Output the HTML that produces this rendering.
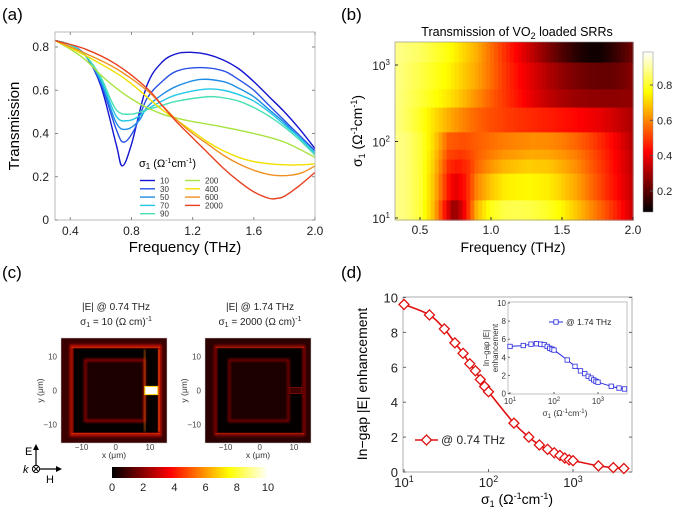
<!DOCTYPE html>
<html><head><meta charset="utf-8">
<style>
html,body{margin:0;padding:0;background:#fff;}
svg{display:block;font-family:"Liberation Sans",Arial,sans-serif;}
</style></head>
<body>
<svg id="fig" width="675" height="511" viewBox="0 0 675 511" xmlns="http://www.w3.org/2000/svg">
<defs>
<linearGradient id="hotH" x1="0" y1="0" x2="1" y2="0">
<stop offset="0" stop-color="#000"/><stop offset="0.375" stop-color="#f00"/><stop offset="0.75" stop-color="#ff0"/><stop offset="1" stop-color="#fff"/>
</linearGradient>
<linearGradient id="hotV" x1="0" y1="1" x2="0" y2="0">
<stop offset="0" stop-color="#000"/><stop offset="0.375" stop-color="#f00"/><stop offset="0.75" stop-color="#ff0"/><stop offset="1" stop-color="#fff"/>
</linearGradient>
<filter id="glow" x="-20%" y="-20%" width="140%" height="140%"><feGaussianBlur stdDeviation="1.2"/></filter>
</defs>
<g id="pa"></g>
<g id="pb"></g>
<g id="pc"></g>
<g id="pd"></g>
</svg>
<script>
// ---------- Panel (a) data ----------
const sigmaLabels = ["10","30","50","70","90","200","400","600","2000"];
const sigmaValues = [10,30,50,70,90,200,400,600,2000];
const curveColors = ["#1414d0","#2850e6","#1e8ce6","#22c8e6","#48e0b4","#a8e440","#f0e000","#f09020","#e84020"];
const freq10 = [0.3,0.4,0.5,0.6,0.7,0.74,0.8,0.9,1.0,1.1,1.2,1.3,1.4,1.5,1.6,1.7,1.8,1.9,2.0];
const trans10 = [0.83,0.81,0.76,0.62,0.35,0.25,0.35,0.62,0.73,0.77,0.775,0.765,0.74,0.70,0.64,0.57,0.50,0.42,0.33];
const freq30 = [0.3,0.4,0.5,0.6,0.7,0.75,0.82,0.9,1.0,1.1,1.25,1.4,1.5,1.6,1.7,1.8,1.9,2.0];
const trans30 = [0.83,0.81,0.76,0.63,0.42,0.36,0.42,0.56,0.64,0.69,0.705,0.69,0.65,0.60,0.53,0.46,0.39,0.32];
const freq50 = [0.3,0.4,0.5,0.6,0.7,0.77,0.85,0.9,1.0,1.1,1.25,1.4,1.5,1.6,1.7,1.8,1.9,2.0];
const trans50 = [0.83,0.81,0.76,0.64,0.45,0.42,0.46,0.52,0.58,0.62,0.65,0.64,0.61,0.57,0.51,0.45,0.38,0.31];
const freq70 = [0.3,0.4,0.5,0.6,0.7,0.78,0.85,0.9,1.0,1.1,1.28,1.4,1.5,1.6,1.7,1.8,1.9,2.0];
const trans70 = [0.83,0.81,0.76,0.65,0.48,0.46,0.48,0.51,0.55,0.58,0.605,0.60,0.58,0.55,0.50,0.44,0.38,0.31];
const freq90 = [0.3,0.4,0.5,0.6,0.7,0.8,0.9,1.0,1.1,1.3,1.4,1.5,1.6,1.7,1.8,1.9,2.0];
const trans90 = [0.83,0.81,0.76,0.66,0.51,0.49,0.51,0.53,0.55,0.57,0.565,0.55,0.52,0.48,0.43,0.37,0.30];
const freq200 = [0.3,0.4,0.5,0.6,0.7,0.8,0.9,1.0,1.1,1.2,1.4,1.6,1.8,2.0];
const trans200 = [0.83,0.79,0.74,0.67,0.61,0.56,0.52,0.49,0.47,0.455,0.43,0.40,0.36,0.29];
const freq400 = [0.3,0.5,0.7,0.8,0.9,1.0,1.1,1.2,1.3,1.4,1.5,1.6,1.7,1.8,1.9,2.0];
const trans400 = [0.83,0.76,0.68,0.63,0.57,0.51,0.46,0.41,0.36,0.32,0.29,0.27,0.26,0.255,0.255,0.26];
const freq600 = [0.3,0.5,0.7,0.9,1.0,1.1,1.2,1.3,1.4,1.5,1.6,1.7,1.77,1.85,1.92,2.0];
const trans600 = [0.83,0.77,0.70,0.60,0.53,0.46,0.40,0.35,0.30,0.26,0.23,0.21,0.205,0.208,0.22,0.25];
const freq2000 = [0.3,0.5,0.7,0.9,1.0,1.1,1.2,1.3,1.4,1.5,1.6,1.7,1.75,1.8,1.9,2.0];
const trans2000 = [0.83,0.79,0.72,0.61,0.53,0.45,0.38,0.31,0.24,0.18,0.13,0.10,0.10,0.11,0.16,0.22];
const curveFreqs = [freq10,freq30,freq50,freq70,freq90,freq200,freq400,freq600,freq2000];
const curveTrans = [trans10,trans30,trans50,trans70,trans90,trans200,trans400,trans600,trans2000];
const aXTicks = [0.4,0.8,1.2,1.6,2.0];
const aYTicks = [0,0.2,0.4,0.6,0.8];

// ---------- Panel (b) data ----------
const bXTicks = [0.5,1.0,1.5,2.0];
const bYTickExp = [1,2,3];
const bCbarTicks = [0.2,0.4,0.6,0.8];

// ---------- Panel (d) data ----------
const dSigma = [10,20,30,40,50,60,70,80,90,100,200,300,400,500,600,700,800,900,1000,2000,3000,4000];
const dEnh074 = [9.6,9.0,8.2,7.4,6.8,6.2,5.8,5.3,4.9,4.6,2.8,2.0,1.55,1.3,1.1,0.95,0.8,0.7,0.65,0.35,0.25,0.2];
const dEnh174 = [5.2,5.3,5.45,5.5,5.45,5.4,5.2,5.0,4.9,4.8,3.7,3.0,2.5,2.2,1.9,1.7,1.5,1.35,1.25,0.8,0.6,0.5];
const dYTicks = [0,2,4,6,8,10];
const dXTickExp = [1,2,3];
const cCbarTicks = [0,2,4,6,8,10];

const NS="http://www.w3.org/2000/svg";
function mk(parent,tag,attrs,text){const e=document.createElementNS(NS,tag);for(const k in attrs)e.setAttribute(k,attrs[k]);if(text!==undefined)e.textContent=text;parent.appendChild(e);return e;}
function smoothPath(pts){let d="M"+pts[0][0].toFixed(2)+","+pts[0][1].toFixed(2);
 for(let i=0;i<pts.length-1;i++){const p0=pts[Math.max(0,i-1)],p1=pts[i],p2=pts[i+1],p3=pts[Math.min(pts.length-1,i+2)];
  const c1=[p1[0]+(p2[0]-p0[0])/6,p1[1]+(p2[1]-p0[1])/6],c2=[p2[0]-(p3[0]-p1[0])/6,p2[1]-(p3[1]-p1[1])/6];
  d+=" C"+c1[0].toFixed(2)+","+c1[1].toFixed(2)+" "+c2[0].toFixed(2)+","+c2[1].toFixed(2)+" "+p2[0].toFixed(2)+","+p2[1].toFixed(2);}
 return d;}
function interp(xs,ys,x){if(x<=xs[0])return ys[0];for(let i=0;i<xs.length-1;i++){if(x<=xs[i+1]){const t=(x-xs[i])/(xs[i+1]-xs[i]);return ys[i]+t*(ys[i+1]-ys[i]);}}return ys[ys.length-1];}
function hot(t){t=Math.max(0,Math.min(1,t));let r,g,b;
 if(t<0.375){r=t/0.375;g=0;b=0;}else if(t<0.75){r=1;g=(t-0.375)/0.375;b=0;}else{r=1;g=1;b=(t-0.75)/0.25;}
 return "rgb("+Math.round(r*255)+","+Math.round(g*255)+","+Math.round(b*255)+")";}

// ================= Panel (a) =================
(function(){
const g=document.getElementById('pa');
const X0=55,X1=315,Y0=32,Y1=220;
const ax=f=>X0+(f-0.3)/(2.0-0.3)*(X1-X0);
const ay=v=>220-v*216.25;
let t=mk(g,'text',{x:2,y:20,'font-size':17});t.textContent="(a)";

const plot=mk(g,'g',{});

for(let i=0;i<curveFreqs.length;i++){
 const pts=curveFreqs[i].map((f,j)=>[ax(f),ay(curveTrans[i][j])]);
 const p=mk(plot,'path',{d:smoothPath(pts),fill:'none',stroke:curveColors[i],'stroke-width':1.4});
 
}
const frame=mk(g,'rect',{x:X0,y:Y0,width:X1-X0,height:Y1-Y0,fill:'none',stroke:'#aaa','stroke-width':0.8});

aXTicks.forEach(v=>{const x=ax(v);mk(g,'line',{x1:x,x2:x,y1:Y1,y2:Y1-3,stroke:'#888'});mk(g,'line',{x1:x,x2:x,y1:Y0,y2:Y0+3,stroke:'#888'});
 const tt=mk(g,'text',{x:x,y:Y1+15,'font-size':12,'text-anchor':'middle',fill:'#222'},v.toFixed(1));
 });
aYTicks.forEach(v=>{const y=ay(v);mk(g,'line',{x1:X0,x2:X0+3,y1:y,y2:y,stroke:'#888'});mk(g,'line',{x1:X1,x2:X1-3,y1:y,y2:y,stroke:'#888'});
 const tt=mk(g,'text',{x:X0-6,y:y+4,'font-size':12,'text-anchor':'end',fill:'#222'},v===0?"0":v.toFixed(1));
 });
let xl=mk(g,'text',{x:185,y:252,'font-size':15,'text-anchor':'middle'},"Frequency (THz)");

let yl=mk(g,'text',{x:0,y:0,'font-size':15,'text-anchor':'middle',transform:'translate(19,126) rotate(-90)'},"Transmission");

const lg=mk(g,'g',{});

const lt=mk(lg,'text',{x:139,y:167,'font-size':11});
lt.innerHTML='σ<tspan font-size="8" dy="2">1</tspan><tspan dy="-2"> (Ω</tspan><tspan font-size="7" dy="-4">-1</tspan><tspan dy="4">cm</tspan><tspan font-size="7" dy="-4">-1</tspan><tspan dy="4">)</tspan>';
for(let i=0;i<sigmaLabels.length;i++){
 const col=i<5?0:1,row=i<5?i:i-5;
 const lx=140+col*45,ly=180.5+row*8.3;
 const e=mk(lg,'g',{});
 
 mk(e,'line',{x1:lx,x2:lx+15,y1:ly,y2:ly,stroke:curveColors[i],'stroke-width':1.4});
 mk(e,'text',{x:lx+20,y:ly+3,'font-size':8,fill:'#333'},sigmaLabels[i]);
}
})();

// ================= Panel (b) =================
(function(){
const g=document.getElementById('pb');
const X0=395,X1=633,Y0=42,Y1=220;
const bx=f=>420+(f-0.5)*(633-420)/1.5;
const by=s=>218-(Math.log10(s)-1)*76.5;
let t=mk(g,'text',{x:341,y:20,'font-size':17},"(b)");

let tl=mk(g,'text',{x:517,y:36,'font-size':12.5,'text-anchor':'middle'});
tl.innerHTML='Transmission of VO<tspan font-size="9" dy="3">2</tspan><tspan dy="-3"> loaded SRRs</tspan>';

const hm=mk(g,'g',{});

const fmin=(X0-420)*1.5/(633-420)+0.5;
const nCols=60;
const sTop=Math.pow(10,1+(218-Y0)/76.5);
const sBot=Math.pow(10,1+(218-Y1)/76.5);
const n=sigmaValues.length;
for(let i=0;i<n;i++){
 const sLo=i===0?sBot:Math.sqrt(sigmaValues[i-1]*sigmaValues[i]);
 const sHi=i===n-1?sTop:Math.sqrt(sigmaValues[i]*sigmaValues[i+1]);
 const yTop=by(sHi),yBot=by(sLo);
 for(let c=0;c<nCols;c++){
  const f0=fmin+(2.0-fmin)*c/nCols,f1=fmin+(2.0-fmin)*(c+1)/nCols;
  const v=interp(curveFreqs[i],curveTrans[i],(f0+f1)/2);
  const r=mk(hm,'rect',{x:bx(f0).toFixed(2),y:yTop.toFixed(2),width:(bx(f1)-bx(f0)+0.6).toFixed(2),height:(yBot-yTop+0.6).toFixed(2),fill:hot((v-0.08)/0.84)});
  
 }
}
mk(g,'rect',{x:X0,y:Y0,width:X1-X0,height:Y1-Y0,fill:'none',stroke:'#888','stroke-width':0.6});
bXTicks.forEach(v=>{const x=bx(v);mk(g,'line',{x1:x,x2:x,y1:Y1,y2:Y1-3,stroke:'#333'});
 const tt=mk(g,'text',{x:x,y:Y1+14,'font-size':12,'text-anchor':'middle',fill:'#222'},v.toFixed(1));
 });
bYTickExp.forEach(e=>{const y=by(Math.pow(10,e));mk(g,'line',{x1:X0,x2:X0+3,y1:y,y2:y,stroke:'#333'});
 const tt=mk(g,'text',{x:X0-5,y:y+5,'font-size':12,'text-anchor':'end',fill:'#222'});
 tt.innerHTML='10<tspan font-size="8" dy="-5">'+e+'</tspan>';
 });
let xl=mk(g,'text',{x:513,y:252,'font-size':14,'text-anchor':'middle'},"Frequency (THz)");

let yl=mk(g,'text',{x:0,y:0,'font-size':14,'text-anchor':'middle',transform:'translate(362,131) rotate(-90)'});
yl.innerHTML='σ<tspan font-size="9" dy="3">1</tspan><tspan dy="-3"> (Ω</tspan><tspan font-size="9" dy="-5">-1</tspan><tspan dy="5">cm</tspan><tspan font-size="9" dy="-5">-1</tspan><tspan dy="5">)</tspan>';

const cb=mk(g,'rect',{x:643,y:52,width:10,height:160,fill:'url(#hotV)',stroke:'#888','stroke-width':0.5});

const cy=v=>191-(v-0.2)*176.7;
bCbarTicks.forEach(v=>{const y=cy(v);mk(g,'line',{x1:653,x2:650,y1:y,y2:y,stroke:'#555'});
 const tt=mk(g,'text',{x:657,y:y+4,'font-size':11,fill:'#222'},v.toFixed(1));
 });
})();

// ================= Panel (c) =================
(function(){
const g=document.getElementById('pc');
let t=mk(g,'text',{x:2,y:278,'font-size':17},"(c)");

function field(x0,id,strong,title1,sigmaTxt){
 const W=106,H=105,y0=338;
 const m=mk(g,'g',{});
 
 const s=W/31,cx=x0+W/2+0.5*s,cy=y0+H/2;
 const px=u=>cx+u*s,py=u=>cy-u*s;
 mk(m,'rect',{x:x0,y:y0,width:W,height:H,fill:strong?'#3a0000':'#2a0000'});
 mk(m,'rect',{x:px(-13),y:py(13),width:26*s,height:26*s,fill:'none',stroke:strong?'#c01000':'#a00800','stroke-width':strong?3:2,filter:'url(#glow)'});
 mk(m,'rect',{x:px(-12.2),y:py(12.2),width:24.4*s,height:24.4*s,fill:'#050000'});
 mk(m,'rect',{x:px(-9),y:py(9),width:17.5*s,height:18*s,fill:'#1a0000',stroke:strong?'#b01000':'#900800','stroke-width':1.5,filter:'url(#glow)'});
 mk(m,'rect',{x:px(-8),y:py(8),width:15.5*s,height:16*s,fill:'#1c0000'});
 mk(m,'rect',{x:px(-13),y:py(12.8),width:26*s,height:1,fill:strong?'#e03000':'#c02000'});
 mk(m,'rect',{x:px(-13),y:py(-12.5),width:26*s,height:1,fill:strong?'#e03000':'#c02000'});
 if(strong){
  mk(m,'rect',{x:px(8.3),y:py(12),width:1.2,height:24*s,fill:'#ff7000',filter:'url(#glow)'});
  mk(m,'rect',{x:px(8.5),y:py(1.2),width:3.8*s,height:2.4*s,fill:'#fff',stroke:'#ffd000','stroke-width':1});
  mk(m,'rect',{x:px(12.5),y:py(12),width:1,height:24*s,fill:'#ff5000'});
 } else {
  mk(m,'rect',{x:px(8.8),y:py(0.9),width:3.5*s,height:1.8*s,fill:'#400000',stroke:'#a01000','stroke-width':0.6});
 }
 mk(m,'rect',{x:x0,y:y0,width:W,height:H,fill:'none',stroke:'#ccc','stroke-width':0.5});
 [-10,0,10].forEach(v=>{
  const tx=mk(g,'text',{x:px(v),y:y0+H+7,'font-size':8,'text-anchor':'middle',fill:'#444'},v<0?"−10":String(v));
  
  const ty=mk(g,'text',{x:x0-4,y:py(v)+3,'font-size':8,'text-anchor':'end',fill:'#444'},v<0?"−10":String(v));
  
 });
 const xl=mk(g,'text',{x:x0+W/2,y:y0+H+15,'font-size':8.5,'text-anchor':'middle',fill:'#333'},"x (μm)");
 
 const yl=mk(g,'text',{x:0,y:0,'font-size':8.5,'text-anchor':'middle',fill:'#333',transform:'translate('+(x0-18)+','+(y0+H/2)+') rotate(-90)'},"y (μm)");
 
 const t1=mk(g,'text',{x:x0+W/2+2,y:310,'font-size':10,'text-anchor':'middle',fill:'#222'},title1);
 
 const t2=mk(g,'text',{x:x0+W/2+2,y:325,'font-size':10,'text-anchor':'middle',fill:'#222'});
 t2.innerHTML='σ<tspan font-size="7" dy="2">1</tspan><tspan dy="-2"> = '+sigmaTxt+' (Ω cm)</tspan><tspan font-size="7" dy="-4">-1</tspan>';
 
}
field(61,'074',true,"|E| @ 0.74 THz","10");
field(205,'174',false,"|E| @ 1.74 THz","2000");
const o=mk(g,'g',{});

mk(o,'line',{x1:36,y1:466,x2:36,y2:448,stroke:'#000','stroke-width':1.2});
mk(o,'path',{d:'M33,450 L36,444 L39,450 Z',fill:'#000'});
mk(o,'line',{x1:40,y1:469,x2:58,y2:469,stroke:'#000','stroke-width':1.2});
mk(o,'path',{d:'M56,466 L62,469 L56,472 Z',fill:'#000'});
mk(o,'circle',{cx:36,cy:469,r:3.6,fill:'#fff',stroke:'#000','stroke-width':1});
mk(o,'path',{d:'M33.5,466.5 L38.5,471.5 M38.5,466.5 L33.5,471.5',stroke:'#000','stroke-width':0.9});
mk(o,'text',{x:25,y:455,'font-size':11},"E");
mk(o,'text',{x:23,y:473,'font-size':11,'font-style':'italic'},"k");
mk(o,'text',{x:46,y:483,'font-size':11},"H");
const cb=mk(g,'rect',{x:112,y:467,width:156,height:11,fill:'url(#hotH)'});

cCbarTicks.forEach(v=>{const x=112+v*15.6;
 const tt=mk(g,'text',{x:x,y:491,'font-size':11,'text-anchor':'middle',fill:'#222'},String(v));
 });
})();

// ================= Panel (d) =================
(function(){
const g=document.getElementById('pd');
const X0=403,X1=632,Y0=297,Y1=472;
const dx=s=>404+(Math.log10(s)-1)*84.5;
const dy=v=>472-v*17.45;
let t=mk(g,'text',{x:341,y:278,'font-size':17},"(d)");

mk(g,'rect',{x:X0,y:Y0,width:X1-X0,height:Y1-Y0,fill:'#fff',stroke:'#999','stroke-width':0.8});
dYTicks.forEach(v=>{const y=dy(v);mk(g,'line',{x1:X0,x2:X0+3,y1:y,y2:y,stroke:'#666'});mk(g,'line',{x1:X1,x2:X1-3,y1:y,y2:y,stroke:'#666'});
 const tt=mk(g,'text',{x:X0-5,y:y+5,'font-size':13,'text-anchor':'end',fill:'#222'},String(v));
 });
dXTickExp.forEach(e=>{const x=dx(Math.pow(10,e));mk(g,'line',{x1:x,x2:x,y1:Y1,y2:Y1-3,stroke:'#666'});
 const tt=mk(g,'text',{x:x,y:Y1+15,'font-size':13,'text-anchor':'middle',fill:'#222'});
 tt.innerHTML='10<tspan font-size="9" dy="-5">'+e+'</tspan>';
 });
const s1=mk(g,'g',{});

mk(s1,'path',{d:smoothPath(dSigma.map((s,i)=>[dx(s),dy(dEnh074[i])])),fill:'none',stroke:'#e01010','stroke-width':1.6});
dSigma.forEach((s,i)=>{const x=dx(s),y=dy(dEnh074[i]);
 const m=mk(s1,'path',{d:`M${x-5},${y} L${x},${y-5} L${x+5},${y} L${x},${y+5} Z`,fill:'#fff',stroke:'#e01010','stroke-width':1.3});
 });
const lg=mk(g,'g',{});

mk(lg,'line',{x1:415,x2:438,y1:440,y2:440,stroke:'#e01010','stroke-width':1.6});
mk(lg,'path',{d:'M421.5,440 L426.5,435 L431.5,440 L426.5,445 Z',fill:'#fff',stroke:'#e01010','stroke-width':1.3});
mk(lg,'text',{x:441,y:444,'font-size':12,fill:'#222'},"@ 0.74 THz");
let xl=mk(g,'text',{x:517,y:504,'font-size':14,'text-anchor':'middle'});
xl.innerHTML='σ<tspan font-size="9" dy="3">1</tspan><tspan dy="-3"> (Ω</tspan><tspan font-size="9" dy="-5">-1</tspan><tspan dy="5">cm</tspan><tspan font-size="9" dy="-5">-1</tspan><tspan dy="5">)</tspan>';

let yl=mk(g,'text',{x:0,y:0,'font-size':14,'text-anchor':'middle',transform:'translate(367,384) rotate(-90)'},"In−gap |E| enhancement");

const IX0=508,IX1=627,IY0=302,IY1=394;
const ix=s=>510+(Math.log10(s)-1)*44;
const iy=v=>393.5-v*9.05;
const ins=mk(g,'g',{});

mk(ins,'rect',{x:IX0,y:IY0,width:IX1-IX0,height:IY1-IY0,fill:'#fff',stroke:'#999','stroke-width':0.6});
[0,2,4,6,8,10].forEach(v=>{const y=iy(v);mk(ins,'line',{x1:IX0,x2:IX0+2,y1:y,y2:y,stroke:'#666'});
 const tt=mk(ins,'text',{x:IX0-2,y:y+3,'font-size':8,'text-anchor':'end',fill:'#333'},String(v));
 });
[1,2,3].forEach(e=>{const x=ix(Math.pow(10,e));mk(ins,'line',{x1:x,x2:x,y1:IY1,y2:IY1-2,stroke:'#666'});
 const tt=mk(ins,'text',{x:x,y:IY1+10,'font-size':8,'text-anchor':'middle',fill:'#333'});
 tt.innerHTML='10<tspan font-size="6" dy="-3">'+e+'</tspan>';
 });
mk(ins,'path',{d:smoothPath(dSigma.map((s,i)=>[ix(s),iy(dEnh174[i])])),fill:'none',stroke:'#2a2ae0','stroke-width':1});
dSigma.forEach((s,i)=>{const x=ix(s),y=iy(dEnh174[i]);
 const m=mk(ins,'rect',{x:x-2.2,y:y-2.2,width:4.4,height:4.4,fill:'#fff',stroke:'#2a2ae0','stroke-width':0.8});
 });
mk(ins,'line',{x1:549,x2:563,y1:322,y2:322,stroke:'#2a2ae0','stroke-width':1});
mk(ins,'rect',{x:553.8,y:319.8,width:4.4,height:4.4,fill:'#fff',stroke:'#2a2ae0','stroke-width':0.8});
mk(ins,'text',{x:566,y:325,'font-size':8.5,fill:'#222'},"@ 1.74 THz");
const ixl=mk(ins,'text',{x:565,y:416,'font-size':8.5,'text-anchor':'middle',fill:'#333'});
ixl.innerHTML='σ<tspan font-size="6" dy="2">1</tspan><tspan dy="-2"> (Ω</tspan><tspan font-size="6" dy="-3">-1</tspan><tspan dy="3">cm</tspan><tspan font-size="6" dy="-3">-1</tspan><tspan dy="3">)</tspan>';

const iyl=mk(ins,'text',{x:0,y:0,'font-size':8,'text-anchor':'middle',fill:'#333',transform:'translate(489,348) rotate(-90)'});
iyl.innerHTML='<tspan x="0" dy="0">In−gap |E|</tspan><tspan x="0" dy="9">enhancement</tspan>';

})();
</script>
</body></html>
